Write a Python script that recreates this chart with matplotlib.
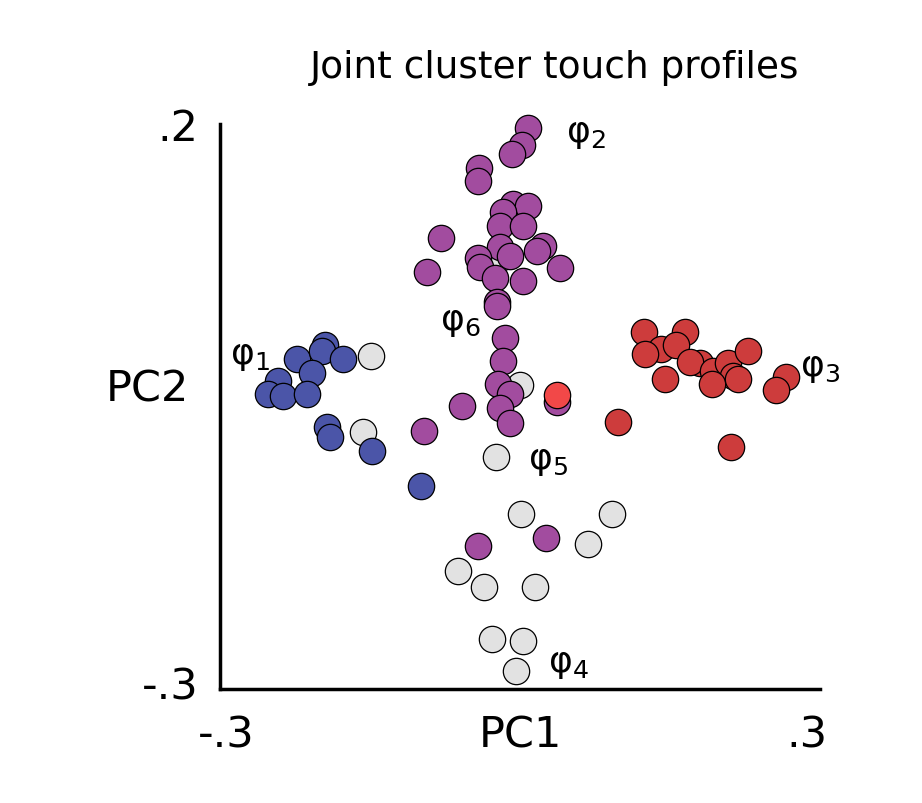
import matplotlib
matplotlib.use("Agg")
import matplotlib.pyplot as plt

purple_x = [0.008,0.002,-0.008,-0.041,-0.042,-0.007,0.008,-0.017,-0.020,0.003,-0.079,0.023,-0.020,0.017,-0.042,-0.010,-0.093,-0.040,0.040,0.003,-0.025,-0.023,-0.023,
            -0.015,-0.017,-0.022,-0.010,-0.020,-0.010,-0.058,-0.096,-0.042,0.026,0.037]
purple_y = [0.196,0.181,0.173,0.161,0.149,0.129,0.127,0.122,0.109,0.109,0.099,0.092,0.091,0.087,0.081,0.083,0.069,0.073,0.072,0.061,0.063,0.042,0.039,
            0.010,-0.010,-0.030,-0.039,-0.052,-0.065,-0.050,-0.072,-0.174,-0.167,-0.046]
grey_x = [-0.018,-0.149,0.000,-0.157,-0.024,0.001,0.092,0.068,-0.062,-0.036,0.015,-0.028,0.003,-0.004]
grey_y = [0.082,-0.006,-0.031,-0.073,-0.095,-0.145,-0.145,-0.172,-0.196,-0.210,-0.210,-0.256,-0.258,-0.284]
blue_x = [-0.223,-0.195,-0.198,-0.177,-0.208,-0.242,-0.252,-0.237,-0.213,-0.193,-0.190,-0.148,-0.099]
blue_y = [-0.008,0.004,-0.001,-0.008,-0.021,-0.028,-0.039,-0.041,-0.039,-0.068,-0.077,-0.090,-0.121]
red_x = [0.124,0.165,0.141,0.156,0.125,0.180,0.170,0.193,0.208,0.228,0.213,0.145,0.192,0.218,0.266,0.256,0.098,0.211]
red_y = [0.016,0.016,0.001,0.004,-0.004,-0.012,-0.011,-0.019,-0.012,-0.001,-0.023,-0.026,-0.030,-0.026,-0.024,-0.036,-0.064,-0.086]
bright_x = [0.037]
bright_y = [-0.040]

labels = [("1", -0.29, -0.005), ("2", 0.046, 0.192), ("3", 0.28, -0.015), ("4", 0.028, -0.277), ("5", 0.008, -0.098), ("6", -0.080, 0.025)]

fig = plt.figure(figsize=(9.22, 8.04), dpi=100)
ax = fig.add_axes([0.2386, 0.142, 0.651, 0.703])
kw = dict(s=360, edgecolors="black", linewidths=0.9, zorder=3, clip_on=False)
ax.scatter(grey_x, grey_y, c="#e2e2e2", **kw)
ax.scatter(blue_x, blue_y, c="#4b55a8", **kw)
ax.scatter(purple_x, purple_y, c="#a24c9f", **kw)
ax.scatter(red_x, red_y, c="#cd3c3c", **kw)
ax.scatter(bright_x, bright_y, c="#f24848", **kw)
ax.set_xlim(-0.3, 0.3)
ax.set_ylim(-0.3, 0.2)
for s in ("top", "right"):
    ax.spines[s].set_visible(False)
for s in ("left", "bottom"):
    ax.spines[s].set_linewidth(2.5)
ax.set_xticks([]); ax.set_yticks([])
for sub, x, y in labels:
    ax.text(x, y, "φ$_{" + sub + "}$", fontsize=26, ha="left", va="center", zorder=5)
fs = 31
fig.text(0.245, 0.085, "-.3", fontsize=fs, ha="center", va="center")
fig.text(0.875, 0.085, ".3", fontsize=fs, ha="center", va="center")
fig.text(0.565, 0.085, "PC1", fontsize=fs, ha="center", va="center")
fig.text(0.215, 0.84, ".2", fontsize=fs, ha="right", va="center")
fig.text(0.215, 0.145, "-.3", fontsize=fs, ha="right", va="center")
fig.text(0.16, 0.515, "PC2", fontsize=fs, ha="center", va="center")
fig.text(0.602, 0.915, "Joint cluster touch profiles", fontsize=27, ha="center", va="center")
fig.savefig("out.png", dpi=100)
